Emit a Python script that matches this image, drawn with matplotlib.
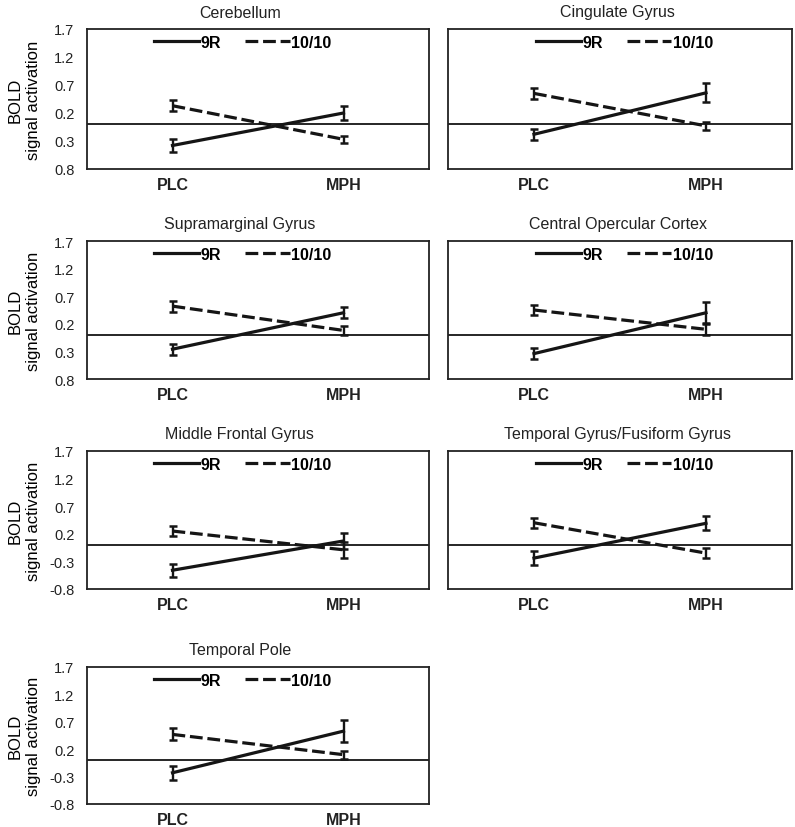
import matplotlib
matplotlib.use("Agg")
import matplotlib.pyplot as plt
from matplotlib.lines import Line2D

plt.rcParams['font.family'] = ['Liberation Sans', 'DejaVu Sans']

conditions = ["PLC", "MPH"]
regions = ["Cerebellum", "Cingulate Gyrus", "Supramarginal Gyrus",
           "Central Opercular Cortex", "Middle Frontal Gyrus",
           "Temporal Gyrus/Fusiform Gyrus", "Temporal Pole"]

# mean values [PLC, MPH]
r9_mean = [[-0.38, 0.20], [-0.18, 0.56], [-0.26, 0.40], [-0.34, 0.40],
           [-0.46, 0.07], [-0.24, 0.39], [-0.23, 0.53]]
r9_err = [[0.11, 0.125], [0.10, 0.17], [0.10, 0.10], [0.10, 0.19],
          [0.12, 0.14], [0.12, 0.125], [0.125, 0.20]]
r10_mean = [[0.33, -0.27], [0.55, -0.03], [0.52, 0.08], [0.45, 0.10],
            [0.25, -0.09], [0.40, -0.15], [0.47, 0.10]]
r10_err = [[0.10, 0.06], [0.10, 0.075], [0.10, 0.075], [0.09, 0.10],
           [0.085, 0.14], [0.095, 0.095], [0.11, 0.07]]

ytick_vals = [-0.8, -0.3, 0.2, 0.7, 1.2, 1.7]
ytick_labels_rows12 = ["0.8", "0.3", "0.2", "0.7", "1.2", "1.7"]
ytick_labels = ["-0.8", "-0.3", "0.2", "0.7", "1.2", "1.7"]
series_names = ["9R", "10/10"]

W, H = 795, 828
fig = plt.figure(figsize=(W / 100, H / 100), dpi=100)

cols = [(87, 429), (448, 792)]
rows = [(30, 170), (242, 380), (452, 590), (668, 805)]
title_x = [0.447, 0.494]
legend_x = [0.456, 0.513]
col_c = '#151515'
dash = (4, 1.5)

for i, name in enumerate(regions):
    r, c = divmod(i, 2)
    x0, x1 = cols[c]
    y0, y1 = rows[r]
    ax = fig.add_axes([x0 / W, 1 - y1 / H, (x1 - x0) / W, (y1 - y0) / H])
    xs = [0.5, 1.5]
    ax.axhline(0, color=col_c, lw=1.3, zorder=1)
    ax.errorbar(xs, r9_mean[i], yerr=r9_err[i], color=col_c, lw=2.3,
                elinewidth=1.7, capsize=2.8, capthick=1.8, zorder=3)
    eb = ax.errorbar(xs, r10_mean[i], yerr=r10_err[i], color=col_c, lw=2.3,
                     elinewidth=1.7, capsize=2.8, capthick=1.8, zorder=3)
    eb.lines[0].set_dashes(dash)
    ax.set_xlim(0, 2)
    ax.set_ylim(-0.8, 1.7)
    ax.set_xticks(xs)
    ax.set_xticklabels(conditions, fontweight='bold', fontsize=11.5)
    ax.set_yticks(ytick_vals)
    if c == 0:
        ax.set_yticklabels(ytick_labels_rows12 if r < 2 else ytick_labels,
                           fontsize=10.5)
        ax.set_ylabel("BOLD\nsignal activation", fontsize=12,
                      linespacing=1.25)
        ax.yaxis.set_label_coords(-0.135, 0.5)
    else:
        ax.set_yticklabels([])
    ax.tick_params(axis='both', length=0, colors='#222222')
    ax.tick_params(axis='x', pad=6)
    ax.tick_params(axis='y', pad=9)
    for s in ax.spines.values():
        s.set_linewidth(1.3)
        s.set_color('#222222')
    ax.set_title(name, fontsize=11.5, x=title_x[c], pad=9, color='#222222')
    handles = [Line2D([], [], color=col_c, lw=2.3),
               Line2D([], [], color=col_c, lw=2.3, dashes=dash)]
    ax.legend(handles, series_names, loc='upper center',
              bbox_to_anchor=(legend_x[c], 1.0), ncol=2, frameon=False,
              prop={'weight': 'bold', 'size': 11.5}, handlelength=2.8,
              handletextpad=0.1, columnspacing=1.5, borderaxespad=0.15,
              borderpad=0.2)

fig.savefig("out.png", dpi=100, facecolor='white')
